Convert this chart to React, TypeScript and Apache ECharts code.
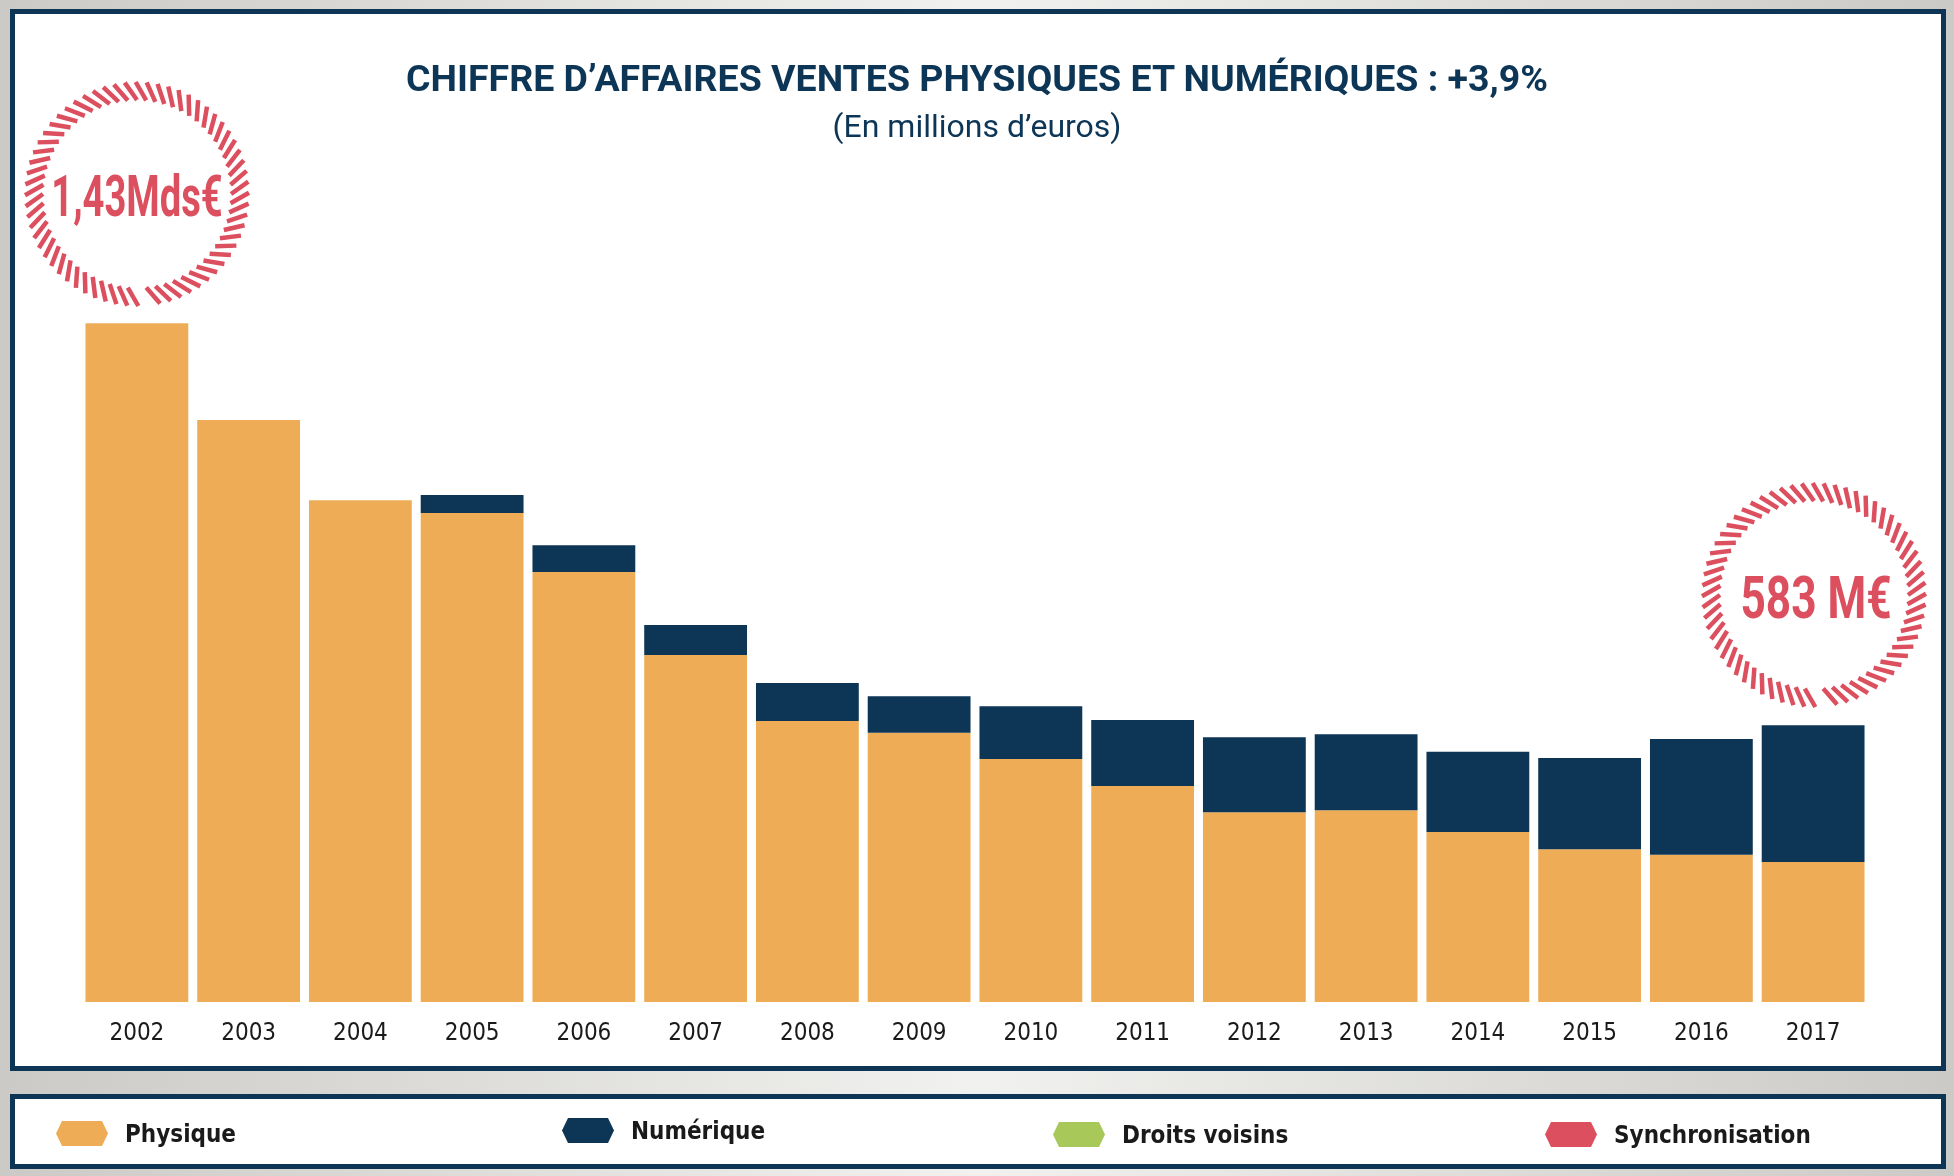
import React, { useEffect, useRef } from "react";
import * as echarts from "echarts";

const years = ["2002","2003","2004","2005","2006","2007","2008","2009","2010","2011","2012","2013","2014","2015","2016","2017"];
const physique = [1430, 1226, 1057, 1030, 906, 731, 592, 567, 512, 455, 400, 404, 358, 322, 310, 295];
const numerique = [0, 0, 0, 38, 56, 63, 80, 77, 111, 139, 158, 160, 169, 192, 244, 288];
const droitsVoisins: number[] = [];
const synchronisation: number[] = [];
const seriesNames = ["Physique", "Numérique", "Droits voisins", "Synchronisation"];
const badgeTexts = ["1,43Mds€", "583 M€"];

const NAVY = "#0c3556";
const ORANGE = "#efac56";
const GREEN = "#a8c95a";
const RED = "#dc4f5f";
const NARROW = "'Liberation Sans Narrow', 'DejaVu Sans Condensed', sans-serif";

function ring(cx: number, cy: number, r1: number, r2: number, n: number, skew: number, gapAt: number) {
  const els: any[] = [];
  for (let i = 0; i < n; i++) {
    const a = (i * 2 * Math.PI) / n;
    if (Math.abs(a - gapAt) < 0.02) continue;
    const b = a + skew;
    els.push({
      type: "line",
      shape: {
        x1: cx + r1 * Math.cos(a),
        y1: cy - r1 * Math.sin(a),
        x2: cx + r2 * Math.cos(b),
        y2: cy - r2 * Math.sin(b),
      },
      style: { stroke: RED, lineWidth: 4.5 },
      silent: true,
    });
  }
  return els;
}

export default function App() {
  const ref = useRef<HTMLDivElement>(null);
  useEffect(() => {
    if (!ref.current) return;
    const chart = echarts.init(ref.current, undefined, { renderer: "svg" });
    const hex = "path://M0,12.5 L6,0 L46,0 L52,12.5 L46,25 L6,25 Z";
    const legendPos = [
      { left: 56, top: 1121 },
      { left: 562, top: 1118 },
      { left: 1053, top: 1122 },
      { left: 1545, top: 1122 },
    ];
    const option: any = {
      animation: false,
      backgroundColor: "transparent",
      title: {
        left: "center",
        top: 59,
        padding: 0,
        text: "CHIFFRE D’AFFAIRES VENTES PHYSIQUES ET NUMÉRIQUES : +3,9%",
        subtext: "(En millions d’euros)",
        itemGap: 13,
        textStyle: { fontFamily: "Roboto, sans-serif", fontWeight: "bold", fontSize: 37.5, lineHeight: 37, color: NAVY },
        subtextStyle: { fontFamily: "Roboto, sans-serif", fontSize: 32, lineHeight: 32, color: NAVY },
      },
      legend: seriesNames.map((name, i) => ({
        data: [name],
        left: legendPos[i].left,
        top: legendPos[i].top,
        padding: 0,
        icon: hex,
        itemWidth: 52,
        itemHeight: 25,
        selectedMode: false,
        textStyle: {
          fontFamily: NARROW,
          fontWeight: "bold",
          fontSize: 24,
          lineHeight: 25,
          color: "#1a1a1a",
          padding: [0, 0, 0, 12],
        },
      })),
      grid: { left: 81, right: 85, top: 290, bottom: 174, containLabel: false },
      xAxis: {
        type: "category",
        data: years,
        axisLine: { show: false },
        axisTick: { show: false },
        axisLabel: { color: "#1a1a1a", fontFamily: NARROW, fontSize: 24, margin: 18 },
      },
      yAxis: { type: "value", min: 0, max: 1500, show: false, splitLine: { show: false } },
      series: [
        { name: seriesNames[0], type: "bar", stack: "total", data: physique, itemStyle: { color: ORANGE }, barCategoryGap: "8%" },
        { name: seriesNames[1], type: "bar", stack: "total", data: numerique, itemStyle: { color: NAVY }, barCategoryGap: "8%" },
        { name: seriesNames[2], type: "bar", stack: "total", data: droitsVoisins, itemStyle: { color: GREEN }, barCategoryGap: "8%" },
        { name: seriesNames[3], type: "bar", stack: "total", data: synchronisation, itemStyle: { color: RED }, barCategoryGap: "8%" },
      ],
      graphic: [
        {
          type: "rect",
          z: -10,
          silent: true,
          shape: { x: 0, y: 0, width: 1954, height: 1176 },
          style: {
            fill: new echarts.graphic.LinearGradient(0, 0, 1, 0, [
              { offset: 0, color: "#cbcac6" },
              { offset: 0.5, color: "#f1f1ef" },
              { offset: 1, color: "#cbcac6" },
            ]),
          },
        },
        {
          type: "rect",
          z: -9,
          silent: true,
          shape: { x: 12.5, y: 11.5, width: 1931, height: 1057 },
          style: { fill: "#ffffff", stroke: NAVY, lineWidth: 5 },
        },
        {
          type: "rect",
          z: -9,
          silent: true,
          shape: { x: 12.5, y: 1096.5, width: 1931, height: 70 },
          style: { fill: "#ffffff", stroke: NAVY, lineWidth: 5 },
        },
        ...ring(137, 194, 94, 112, 64, 0.11, (3 * Math.PI) / 2),
        ...ring(1814, 595, 94, 112, 64, 0.11, (3 * Math.PI) / 2),
        {
          type: "text",
          x: 137,
          y: 197,
          scaleX: 0.67,
          silent: true,
          style: {
            text: badgeTexts[0],
            font: "bold 57px Roboto, sans-serif",
            fill: RED,
            textAlign: "center",
            verticalAlign: "middle",
            textVerticalAlign: "middle",
          },
        },
        {
          type: "text",
          x: 1816,
          y: 598,
          scaleX: 0.75,
          silent: true,
          style: {
            text: badgeTexts[1],
            font: "bold 59px Roboto, sans-serif",
            fill: RED,
            textAlign: "center",
            verticalAlign: "middle",
            textVerticalAlign: "middle",
          },
        },
      ],
    };
    chart.setOption(option);
    return () => chart.dispose();
  }, []);
  return (
    <div
      ref={ref}
      style={{ position: "fixed", left: 0, top: 0, width: 1954, height: 1176 }}
    />
  );
}
